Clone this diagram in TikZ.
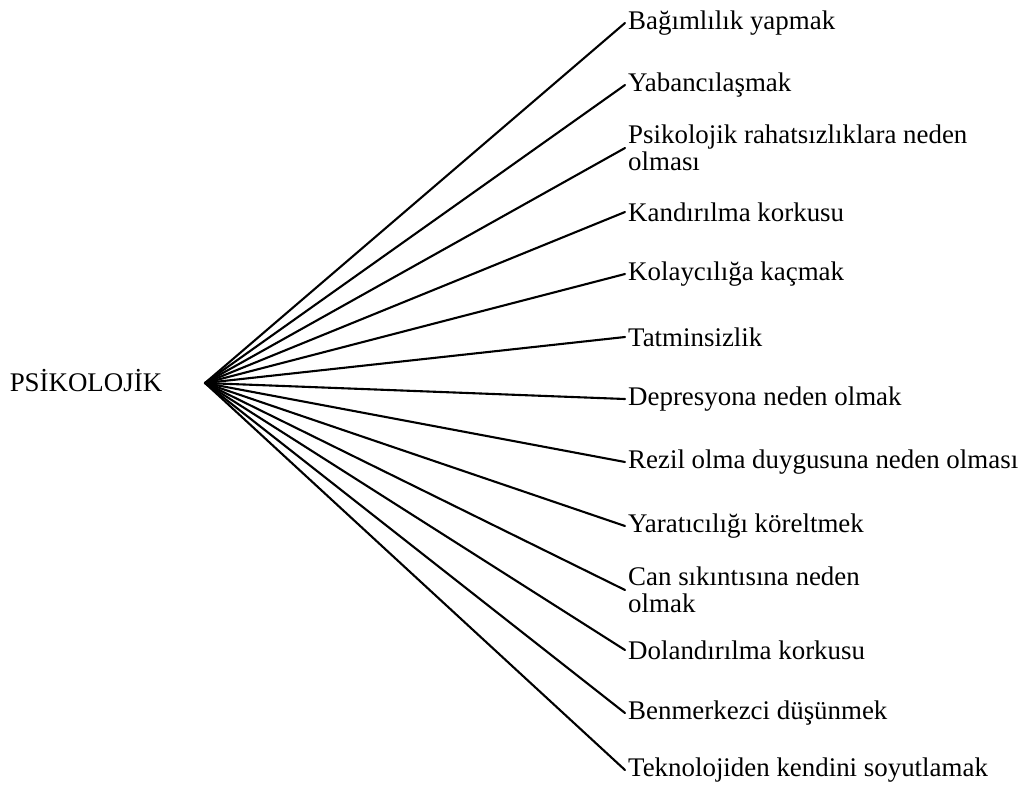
\documentclass[tikz,border=0pt]{standalone}
\usepackage{fontspec}
\setmainfont{Liberation Serif}

\begin{document}
\begin{tikzpicture}[x=1pt,y=-1pt,font=\fontsize{26.9}{27}\selectfont,
      branch/.style={anchor=west,align=left,inner sep=3pt},
      spoke/.style={line width=2.1pt,line cap=round,line join=round}]
      \useasboundingbox (0,0) rectangle (1020,793);
      \node[inner sep=0pt] (psiko) at (86,381) {PSİKOLOJİK};
      \coordinate (hub) at (205,383);
      \node[branch] (bagim) at (625,23) {Bağımlılık yapmak};
      \node[branch] (yaban) at (625,85) {Yabancılaşmak};
      \node[branch] (rahat) at (625,148) {Psikolojik rahatsızlıklara neden\\olması};
      \node[branch] (kandir) at (625,212) {Kandırılma korkusu};
      \node[branch] (kolay) at (625,274) {Kolaycılığa kaçmak};
      \node[branch] (tatmin) at (625,337) {Tatminsizlik};
      \node[branch] (depres) at (625,399) {Depresyona neden olmak};
      \node[branch] (rezil) at (625,462) {Rezil olma duygusuna neden olması};
      \node[branch] (yarat) at (625,526) {Yaratıcılığı köreltmek};
      \node[branch] (sikinti) at (625,590) {Can sıkıntısına neden\\olmak};
      \node[branch] (dolan) at (625,650) {Dolandırılma korkusu};
      \node[branch] (benmer) at (625,713) {Benmerkezci düşünmek};
      \node[branch] (tekno) at (625,770) {Teknolojiden kendini soyutlamak};
      \draw[spoke] (hub) -- (bagim.west);
      \draw[spoke] (hub) -- (yaban.west);
      \draw[spoke] (hub) -- (rahat.west);
      \draw[spoke] (hub) -- (kandir.west);
      \draw[spoke] (hub) -- (kolay.west);
      \draw[spoke] (hub) -- (tatmin.west);
      \draw[spoke] (hub) -- (depres.west);
      \draw[spoke] (hub) -- (rezil.west);
      \draw[spoke] (hub) -- (yarat.west);
      \draw[spoke] (hub) -- (sikinti.west);
      \draw[spoke] (hub) -- (dolan.west);
      \draw[spoke] (hub) -- (benmer.west);
      \draw[spoke] (hub) -- (tekno.west);
    \end{tikzpicture}
\end{document}
